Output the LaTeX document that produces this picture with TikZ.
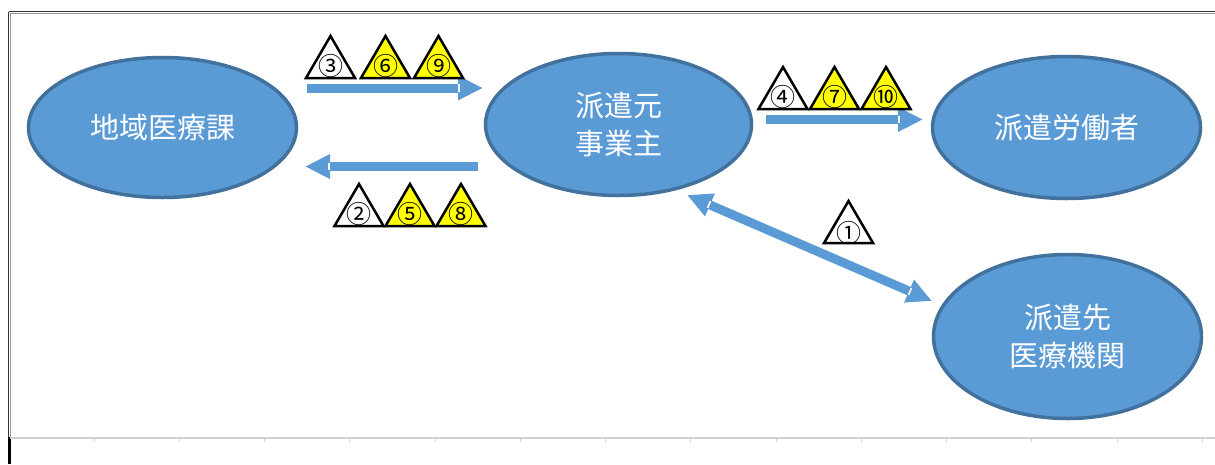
\documentclass[tikz,border=0pt]{standalone}
\usepackage{fontspec}
\setmainfont{Noto Sans CJK JP}
\usetikzlibrary{arrows.meta,shapes.geometric,calc}
\definecolor{nodeblue}{HTML}{5B9BD5}
\definecolor{nodeedge}{HTML}{41719C}
\definecolor{warnyellow}{HTML}{FFFF00}
\newcommand\warntri[6]{%
  \draw[tri, fill=#4] (#2-24.5,#3) -- (#2,#3-42) -- (#2+24.5,#3) -- cycle;
  \node[num] (#1) at (#2,#3-#6) {#5};}
\newcommand\arrowmark[2]{%
  \coordinate (mk) at ($(#2)!24pt!(#1)$);
  \draw[white, line width=1.6pt] ($(mk)!3.6pt!90:(#2)$) -- ($(mk)!3.6pt!-90:(#2)$);}
\begin{document}
\begin{tikzpicture}[x=1pt,y=-1pt,
  party/.style={ellipse, draw=nodeedge, line width=3.5pt, fill=nodeblue, text=white,
    font=\fontsize{29}{38}\selectfont, align=center, inner sep=0pt},
  flow/.style={draw=nodeblue, line width=9pt, -{Triangle[width=23pt,length=25pt]}},
  flowboth/.style={draw=nodeblue, line width=9pt, {Triangle[width=23pt,length=25pt]}-{Triangle[width=23pt,length=25pt]}},
  tri/.style={draw=black, line width=2.5pt, line join=miter},
  num/.style={inner sep=0pt, font=\fontsize{25}{25}\selectfont, text=black}]
\useasboundingbox (0,0) rectangle (1215,464);
% frame
\draw[black!80, line width=1.2pt] (8.5,11.5) -- (1215,11.5);
\draw[black!40, line width=1pt] (10,13) -- (1215,13);
\draw[black!80, line width=1.2pt] (8.5,11.5) -- (8.5,437);
\draw[black!40, line width=1pt] (10,13) -- (10,437);
\draw[black, line width=2.5pt] (9.3,437) -- (9.3,464);
\draw[black!18, line width=1.5pt] (10,438) -- (1215,438);
\foreach \k in {0,...,13} \draw[black!18, line width=1pt] (94+85.25*\k,438) -- (94+85.25*\k,441.5);
% parties
\node[party, minimum width=268pt, minimum height=140pt] (chiiki) at (162.5,127.5) {地域医療課};
\node[party, minimum width=266pt, minimum height=142pt] (motojigyo) at (618.5,124.5) {派遣元\\事業主};
\node[party, minimum width=268pt, minimum height=142pt] (rodosha) at (1066.5,127.5) {派遣労働者};
\node[party, minimum width=268pt, minimum height=164pt] (sakiiryo) at (1067.5,336.5) {派遣先\\医療機関};
% connector ends
\coordinate (a1s) at (307,88);  \coordinate (a1e) at (483,88);
\coordinate (a2s) at (478,166.5); \coordinate (a2e) at (305,166.5);
\coordinate (a3s) at (766,119.5); \coordinate (a3e) at (923,119.5);
\coordinate (a4s) at (687,195); \coordinate (a4e) at (932,301);
\draw[flow] (a1s) -- (a1e);
\draw[flow] (a2s) -- (a2e);
\draw[flow] (a3s) -- (a3e);
\draw[flowboth] (a4s) -- (a4e);
\arrowmark{a1s}{a1e}
\arrowmark{a2s}{a2e}
\arrowmark{a3s}{a3e}
\arrowmark{a4s}{a4e}
\arrowmark{a4e}{a4s}
% warning triangles
\warntri{t3}{330.5}{78}{white}{③}{12.5}
\warntri{t6}{385.5}{78}{warnyellow}{⑥}{12.5}
\warntri{t9}{438.5}{78}{warnyellow}{⑨}{12.5}
\warntri{t2}{359}{226}{white}{②}{12.5}
\warntri{t5}{410}{226}{warnyellow}{⑤}{12.5}
\warntri{t8}{461}{226}{warnyellow}{⑧}{12.5}
\warntri{t4}{783}{109}{white}{④}{12.5}
\warntri{t7}{834.5}{109}{warnyellow}{⑦}{12.5}
\warntri{t10}{886}{109}{warnyellow}{⑩}{12.5}
\warntri{t1}{848.5}{243}{white}{①}{10.5}
\end{tikzpicture}
\end{document}
